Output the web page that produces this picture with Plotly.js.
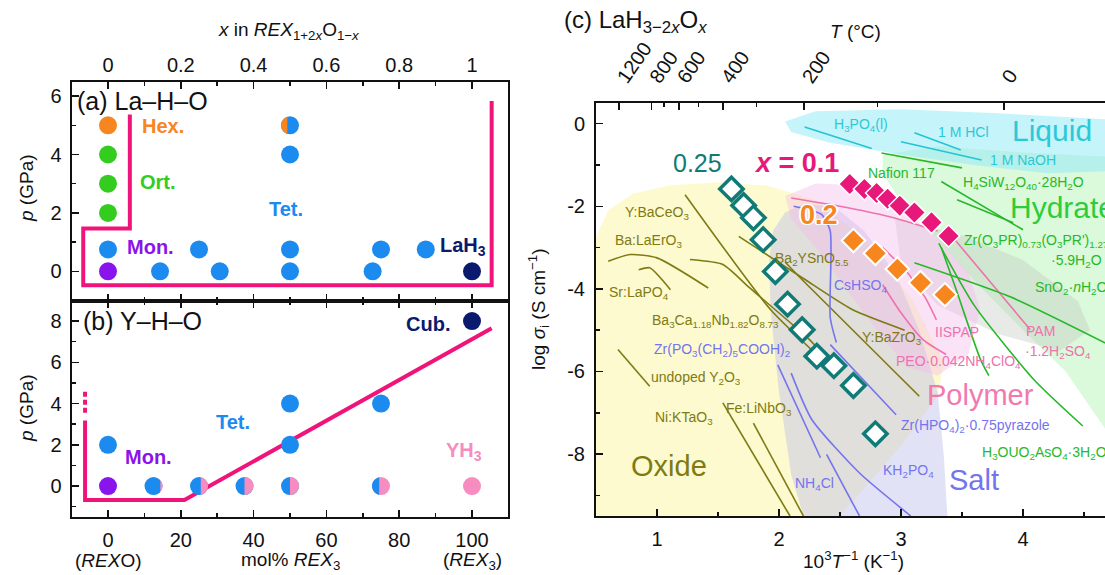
<!DOCTYPE html>
<html><head><meta charset="utf-8">
<script src="https://cdn.plot.ly/plotly-3.0.1.min.js"></script>
<style>html,body{margin:0;padding:0;background:#fff;overflow:hidden}#chart{width:1105px;height:575px}</style>
</head><body><div id="chart"></div>
<script>
// ===================== DATA =====================
// Panel (a): La–H–O, x in REX(1+2x)O(1-x) vs pressure (GPa)
const aX        = [0, 0, 0, 0, 0, 0, 0.143, 0.25, 0.307, 0.5, 0.5, 0.5, 0.5, 0.727, 0.75, 0.873, 1];
const aP        = [5, 4, 3, 2, 0.75, 0, 0, 0.75, 0, 0, 0.75, 4, 5, 0, 0.75, 0.75, 0];
const aPhase    = ['Hex','Ort','Ort','Ort','Tet','Mon','Tet','Tet','Tet','Tet','Tet','Tet','Tet','Tet','Tet','Tet','LaH3'];
const aMixPhase = [null,null,null,null,null,null,null,null,null,null,null,null,'Hex',null,null,null,null];
const aMixFrac  = [0,0,0,0,0,0,0,0,0,0,0,0,0.35,0,0,0,0];
const aBoundX   = [0.06, 0.06, -0.068, -0.068, 1.054, 1.054];
const aBoundP   = [5.37, 1.47, 1.47, -0.48, -0.48, 5.83];

// Panel (b): Y–H–O, mol% REX3 vs pressure (GPa)
const bX        = [0, 0, 12.5, 25, 37.5, 50, 50, 50, 75, 75, 100, 100];
const bP        = [2, 0, 0, 0, 0, 0, 2, 4, 0, 4, 0, 8];
const bPhase    = ['Tet','Mon','Tet','Tet','Tet','Tet','Tet','Tet','YH3','Tet','YH3','Cub'];
const bMixPhase = [null,null,'YH3','YH3','YH3','YH3',null,null,'Tet',null,null,null];
const bMixFrac  = [0,0,0.12,0.4,0.5,0.5,0,0,0.4,0,0,0];
const bBoundX   = [-6.3, -6.3, 21, 105.4];
const bBoundP   = [3.18, -0.68, -0.68, 7.66];
const bDotX     = [-6.3, -6.3];
const bDotP     = [3.55, 4.6];

// Panel (c): LaH(3-2x)Ox conductivity, 1000/T vs log sigma
const c01X  = [2.58, 2.70, 2.80, 2.89, 2.99, 3.11, 3.25, 3.39];
const c01Y  = [-1.46, -1.58, -1.68, -1.82, -1.99, -2.15, -2.39, -2.72];
const c02X  = [2.61, 2.79, 2.97, 3.16, 3.36];
const c02Y  = [-2.83, -3.14, -3.52, -3.85, -4.14];
const c025X = [1.61, 1.71, 1.79, 1.87, 1.97, 2.07, 2.19, 2.31, 2.45, 2.61, 2.79];
const c025Y = [-1.58, -1.98, -2.28, -2.81, -3.58, -4.37, -4.99, -5.63, -5.86, -6.34, -7.51];

// top axis temperatures (°C)
const topT      = [1200, 800, 600, 400, 200, 0];
const topTMinor = [700, 500, 300, 100];
const cYTicks   = [0, -2, -4, -6, -8];
const cYText    = ['0', '-2', '-4', '-6', '-8'];

// background material classes (outlines in 1000/T, log sigma)
const oxideX   = [0.5, 0.5, 0.6, 0.8, 1.1, 1.5, 1.9, 2.3, 2.7, 3.1, 3.35, 3.3, 3.0, 2.5];
const oxideY   = [-9.5, -2.75, -2.1, -1.7, -1.5, -1.42, -1.5, -1.85, -2.8, -4.3, -5.8, -6.6, -7.8, -9.5];
const saltX    = [1.92, 1.95, 2.05, 2.2, 2.45, 2.7, 2.95, 3.15, 3.3, 3.35, 3.38, 2.2, 2.1, 2.0, 1.93];
const saltY    = [-3.3, -2.6, -2.15, -1.95, -2.0, -2.6, -3.6, -5.0, -6.5, -8.0, -9.5, -9.5, -8.5, -6.5, -4.5];
const polyX    = [2.05, 2.3, 2.7, 3.0, 3.3, 3.55, 3.65, 3.55, 3.3, 3.05, 2.8, 2.55, 2.3, 2.1];
const polyY    = [-1.75, -1.45, -1.5, -2.0, -2.8, -3.6, -4.5, -5.6, -6.1, -5.9, -5.0, -4.0, -3.0, -2.3];
const hydX     = [2.85, 3.3, 4.0, 4.7, 4.7, 4.35, 4.0, 3.6, 3.3, 3.0, 2.85];
const hydY     = [-0.75, -0.55, -0.7, -0.8, -7.5, -6.0, -5.0, -3.8, -2.8, -1.9, -1.2];
const grayX    = [2.95, 3.5, 4.0, 4.45, 4.55, 4.3, 3.8, 3.3, 3.0];
const grayY    = [-2.3, -2.7, -3.3, -4.3, -5.0, -5.5, -5.1, -4.4, -3.4];
const liqX     = [2.05, 2.3, 3.0, 3.8, 4.7, 4.7, 4.2, 3.6, 3.0, 2.4, 2.1];
const liqY     = [0.05, 0.3, 0.35, 0.25, 0.1, -1.15, -1.2, -1.0, -0.75, -0.45, -0.2];

// literature conductivity curves
const oxLines = [
  {x:[1.23, 1.93, 2.32], y:[-1.72, -4.5, -5.62]},                 // Y:BaCeO3
  {x:[0.60, 0.78, 1.0, 1.42], y:[-3.33, -3.17, -3.25, -3.98]},     // Ba:LaErO3
  {x:[0.85, 0.94, 1.11], y:[-3.54, -3.49, -4.02]},                 // Sr:LaPO4
  {x:[1.27, 1.54, 1.75, 2.25, 2.35], y:[-3.29, -3.41, -3.95, -5.23, -5.55]}, // Ba3Ca1.18Nb1.82O8.73
  {x:[1.67, 2.2, 2.6, 3.03], y:[-2.73, -3.75, -4.5, -5.0]},        // Ba2YSnO5.5
  {x:[2.05, 2.19, 3.15], y:[-3.35, -3.78, -6.6]},                  // Y:BaZrO3
  {x:[0.68, 0.94], y:[-5.47, -6.36]},                              // undoped Y2O3
  {x:[1.54, 2.09], y:[-6.76, -9.5]},                               // Ni:KTaO3
  {x:[1.79, 2.2], y:[-7.25, -9.5]}                                 // Fe:LiNbO3
];
const saltLines = [
  {x:[2.12, 2.35, 2.42, 2.42, 2.47], y:[-2.0, -2.2, -2.6, -4.7, -5.3]}, // CsHSO4
  {x:[2.42, 2.96], y:[-5.35, -7.05]},                                    // Zr(HPO4)2·0.75pyrazole
  {x:[1.99, 2.34], y:[-5.84, -8.09]},                                    // Zr(PO3(CH2)5COOH)2
  {x:[2.10, 2.27, 2.66, 3.08], y:[-6.04, -7.17, -8.46, -9.5]},           // KH2PO4
  {x:[2.39, 2.66], y:[-8.01, -9.5]}                                      // NH4Cl
];
const polyLines = [
  {x:[2.1, 2.5, 2.9, 3.3], y:[-1.8, -2.0, -2.25, -2.6]},
  {x:[3.43, 4.06], y:[-2.77, -4.99]},                        // PAM·1.2H2SO4
  {x:[2.85, 3.05, 3.2, 3.29], y:[-3.0, -3.6, -4.22, -4.75]},  // IISPAP
  {x:[2.85, 3.0, 3.18, 3.37], y:[-3.9, -4.58, -5.23, -5.59]}  // PEO·0.042NH4ClO4
];
const hydLines = [
  {x:[2.84, 3.5], y:[-0.71, -1.07]},                          // Nafion 117
  {x:[3.33, 4.0], y:[-1.40, -2.57]},                          // H4SiW12O40·28H2O
  {x:[3.46, 3.92], y:[-1.84, -2.4]},
  {x:[3.33, 3.45, 3.65, 3.72], y:[-3.0, -4.0, -5.7, -6.1]},   // Zr(O3PR)...
  {x:[3.31, 3.6, 4.09, 4.49], y:[-2.9, -4.4, -6.2, -7.32]},   // H3OUO2AsO4·3H2O
  {x:[3.11, 3.9, 4.7], y:[-3.37, -4.2, -5.35]}                // SnO2·nH2O
];
const liqLines = [
  {x:[2.21, 2.76], y:[-0.08, -0.6]},   // H3PO4(l)
  {x:[3.11, 3.49], y:[-0.22, -0.64]},  // 1 M HCl
  {x:[3.0, 3.66], y:[-0.44, -0.88]}    // 1 M NaOH
];

// ===================== STYLE =====================
const W = 1105, H = 575;
const FONT = 'Liberation Sans, Arial, Helvetica, sans-serif';
const INK = '#111';
const phaseColor = {Hex:'#f7861e', Ort:'#33cc1f', Tet:'#1b8bef', Mon:'#8a14ec', LaH3:'#0a1a6e', Cub:'#0a1a6e', YH3:'#f68cc0'};
const PINK = '#f0147a';
const cls = {oxi:'#7f7a14', salt:'#7474ee', pol:'#ee72ad', hyd:'#27b82a', liq:'#22c4d6'};
const px = v => v / W, py = v => 1 - v / H;

const traces = [];
// ---- panel (a)
traces.push({x:aBoundX, y:aBoundP, xaxis:'x', yaxis:'y', mode:'lines', line:{color:PINK, width:4}, hoverinfo:'skip'});
traces.push({x:aX, y:aP, xaxis:'x', yaxis:'y', mode:'markers', cliponaxis:false,
  marker:{size:18, color:aPhase.map(p => phaseColor[p])}, hoverinfo:'skip'});
// ---- panel (b)
traces.push({x:bBoundX, y:bBoundP, xaxis:'x2', yaxis:'y2', mode:'lines', line:{color:PINK, width:4}, hoverinfo:'skip'});
traces.push({x:bDotX, y:bDotP, xaxis:'x2', yaxis:'y2', mode:'lines', line:{color:PINK, width:4, dash:'5px,3px'}, hoverinfo:'skip'});
traces.push({x:bX, y:bP, xaxis:'x2', yaxis:'y2', mode:'markers', cliponaxis:false,
  marker:{size:18, color:bPhase.map(p => phaseColor[p])}, hoverinfo:'skip'});

// ---- panel (c) background regions
const region = (x, y, col) => ({x, y, xaxis:'x3', yaxis:'y3', mode:'lines', fill:'toself',
  fillcolor:col, line:{width:0, color:'rgba(0,0,0,0)'}, hoverinfo:'skip'});
traces.push(region(oxideX, oxideY, 'rgba(250,246,165,0.55)'));
traces.push(region(saltX, saltY, 'rgba(190,190,238,0.45)'));
traces.push(region(hydX, hydY, 'rgba(170,240,170,0.42)'));
traces.push(region(grayX, grayY, 'rgba(190,195,190,0.35)'));
traces.push(region(polyX, polyY, 'rgba(245,185,235,0.4)'));
traces.push(region(liqX, liqY, 'rgba(150,235,245,0.55)'));

const addLines = (arr, col) => arr.forEach(l => traces.push({x:l.x, y:l.y, xaxis:'x3', yaxis:'y3',
  mode:'lines', line:{color:col, width:1.6, shape:'spline', smoothing:0.6}, hoverinfo:'skip'}));
addLines(oxLines, cls.oxi);
addLines(saltLines, cls.salt);
addLines(polyLines, cls.pol);
addLines(hydLines, cls.hyd);
addLines(liqLines, cls.liq);

traces.push({x:c025X, y:c025Y, xaxis:'x3', yaxis:'y3', mode:'markers',
  marker:{symbol:'diamond', size:18, color:'#ffffff', line:{color:'#127a76', width:3.5}}, hoverinfo:'skip'});
traces.push({x:c02X, y:c02Y, xaxis:'x3', yaxis:'y3', mode:'markers',
  marker:{symbol:'diamond', size:18, color:'#f7861e', line:{color:'#ffffff', width:2}}, hoverinfo:'skip'});
traces.push({x:c01X, y:c01Y, xaxis:'x3', yaxis:'y3', mode:'markers',
  marker:{symbol:'diamond', size:17, color:'#e8177a', line:{color:'#ffffff', width:1.5}}, hoverinfo:'skip'});

// ---- half-filled markers (second phase drawn as circular segment)
function segPath(r, f, side) {
  const c = r - 2 * r * f;
  const phi = Math.acos(Math.max(-1, Math.min(1, c / r)));
  const s = side === 'left' ? -1 : 1;
  const P = t => [r * Math.cos(t), r * Math.sin(t)];
  const arc = (t1, t2) => {
    const k = 4 / 3 * Math.tan((t2 - t1) / 4);
    const p1 = P(t1), p2 = P(t2);
    const c1 = [p1[0] - k * r * Math.sin(t1), p1[1] + k * r * Math.cos(t1)];
    const c2 = [p2[0] + k * r * Math.sin(t2), p2[1] - k * r * Math.cos(t2)];
    const f2 = v => v.toFixed(2);
    return `C ${f2(s*c1[0])} ${f2(c1[1])} ${f2(s*c2[0])} ${f2(c2[1])} ${f2(s*p2[0])} ${f2(p2[1])}`;
  };
  const st = P(-phi);
  return `M ${(s*st[0]).toFixed(2)} ${st[1].toFixed(2)} ${arc(-phi, 0)} ${arc(0, phi)} Z`;
}
const shapes = [];
const mixShapes = (X, Y, mixP, mixF, xr, yr) => X.forEach((x, i) => {
  if (!mixP[i]) return;
  const side = mixP[i] === 'YH3' ? 'right' : 'left';
  shapes.push({type:'path', xref:xr, yref:yr, xsizemode:'pixel', ysizemode:'pixel',
    xanchor:x, yanchor:Y[i], path:segPath(9, mixF[i], side),
    fillcolor:phaseColor[mixP[i]], line:{width:0}, layer:'above'});
});
mixShapes(aX, aP, aMixPhase, aMixFrac, 'x', 'y');
mixShapes(bX, bP, bMixPhase, bMixFrac, 'x2', 'y2');

// ===================== ANNOTATIONS =====================
const ann = [];
const A = (text, x, y, xr, yr, color, size, opts = {}) => ann.push(Object.assign({
  text, x, y, xref:xr, yref:yr, showarrow:false, xanchor:'center', yanchor:'middle',
  font:{family:FONT, size, color}}, opts));
const P = (text, X, Y, size, opts = {}) => A(text, px(X), py(Y), 'paper', 'paper', INK, size, opts);

// panel (a)
A('(a) La–H–O', -0.09, 5.83, 'x', 'y', INK, 25, {xanchor:'left'});
A('<b>Hex.</b>', 0.151, 4.97, 'x', 'y', phaseColor.Hex, 20);
A('<b>Ort.</b>', 0.136, 3.07, 'x', 'y', phaseColor.Ort, 20);
A('<b>Tet.</b>', 0.49, 2.12, 'x', 'y', phaseColor.Tet, 20);
A('<b>Mon.</b>', 0.116, 0.84, 'x', 'y', phaseColor.Mon, 20);
A('<b>LaH<sub>3</sub></b>', 0.975, 0.84, 'x', 'y', phaseColor.LaH3, 20);
// panel (b)
A('(b) Y–H–O', -7.3, 8.0, 'x2', 'y2', INK, 25, {xanchor:'left'});
A('<b>Cub.</b>', 88, 7.87, 'x2', 'y2', phaseColor.Cub, 20);
A('<b>Tet.</b>', 34.3, 3.11, 'x2', 'y2', phaseColor.Tet, 20);
A('<b>Mon.</b>', 11.1, 1.42, 'x2', 'y2', phaseColor.Mon, 20);
A('<b>YH<sub>3</sub></b>', 97.8, 1.66, 'x2', 'y2', phaseColor.YH3, 20);
// axis titles (a)/(b)
P('<i>x</i> in <i>REX</i><sub>1+2<i>x</i></sub>O<sub>1−<i>x</i></sub>', 289, 31, 19);
P('<i>p</i> (GPa)', 27, 188, 19, {textangle:-90});
P('<i>p</i> (GPa)', 27, 408, 19, {textangle:-90});
P('(<i>REX</i>O)', 108, 560, 19);
P('mol% <i>REX</i><sub>3</sub>', 290, 561, 19);
P('(<i>REX</i><sub>3</sub>)', 472, 561, 19);
// panel (c) titles
P('(c) LaH<sub>3−2<i>x</i></sub>O<sub><i>x</i></sub>', 562, 22, 24, {xanchor:'left'});
P('<i>T</i> (°C)', 855, 32, 19);
P('log <i>σ</i><sub>i</sub> (S cm<sup>−1</sup>)', 538, 310, 19, {textangle:-90});
P('10<sup>3</sup><i>T</i><sup>−1</sup> (K<sup>−1</sup>)', 853, 560, 19);
// panel (c) series labels
A('0.25', 1.33, -0.96, 'x3', 'y3', '#127a76', 25);
A('<b><i>x</i> = 0.1</b>', 2.14, -0.96, 'x3', 'y3', '#e8177a', 27);
A('<b>0.2</b>', 2.33, -2.2, 'x3', 'y3', '#f7861e', 27,
  {font:{family:FONT, size:27, color:'#f7861e', shadow:'1px 1px 0 #fff, -1px -1px 0 #fff, 1px -1px 0 #fff, -1px 1px 0 #fff, 2px 0 0 #fff, -2px 0 0 #fff'}});

const cLabels = [
  ['Liquid', 4.24, -0.16, 'liq', 30, 'center'],
  ['Hydrate', 3.88, -2.04, 'hydB', 30, 'left'],
  ['H<sub>3</sub>PO<sub>4</sub>(l)', 2.675, -0.04, 'liq', 14, 'center'],
  ['1 M HCl', 3.51, -0.2, 'liq', 14, 'center'],
  ['1 M NaOH', 4.0, -0.88, 'liq', 14, 'center'],
  ['Nafion 117', 3.0, -1.19, 'hyd', 14, 'center'],
  ['H<sub>4</sub>SiW<sub>12</sub>O<sub>40</sub>·28H<sub>2</sub>O', 4.0, -1.43, 'hyd', 14, 'center'],
  ["Zr(O<sub>3</sub>PR)<sub>0.73</sub>(O<sub>3</sub>PR')<sub>1.27</sub>", 3.5, -2.84, 'hyd', 14, 'left'],
  ['·5.9H<sub>2</sub>O', 4.21, -3.33, 'hyd', 14, 'left'],
  ['SnO<sub>2</sub>·<i>n</i>H<sub>2</sub>O', 4.08, -3.97, 'hyd', 14, 'left'],
  ['PAM', 4.14, -5.01, 'pol', 14, 'center'],
  ['·1.2H<sub>2</sub>SO<sub>4</sub>', 4.29, -5.53, 'pol', 14, 'center'],
  ['IISPAP', 3.46, -5.04, 'pol', 14, 'center'],
  ['PEO·0.042NH<sub>4</sub>ClO<sub>4</sub>', 3.47, -5.78, 'pol', 14, 'center'],
  ['Polymer', 3.65, -6.58, 'polB', 29, 'center'],
  ['Salt', 3.60, -8.64, 'salt', 29, 'center'],
  ['Oxide', 1.10, -8.29, 'oxi', 29, 'center'],
  ['Zr(HPO<sub>4</sub>)<sub>2</sub>·0.75pyrazole', 2.985, -7.33, 'salt', 14, 'left'],
  ['H<sub>3</sub>OUO<sub>2</sub>AsO<sub>4</sub>·3H<sub>2</sub>O', 3.65, -7.98, 'hyd', 14, 'left'],
  ['KH<sub>2</sub>PO<sub>4</sub>', 3.06, -8.40, 'salt', 14, 'center'],
  ['NH<sub>4</sub>Cl', 2.29, -8.73, 'salt', 14, 'center'],
  ['Ni:KTaO<sub>3</sub>', 1.22, -7.12, 'oxi', 14, 'center'],
  ['Fe:LiNbO<sub>3</sub>', 1.84, -6.91, 'oxi', 14, 'center'],
  ['undoped Y<sub>2</sub>O<sub>3</sub>', 1.32, -6.17, 'oxi', 14, 'center'],
  ['Zr(PO<sub>3</sub>(CH<sub>2</sub>)<sub>5</sub>COOH)<sub>2</sub>', 1.53, -5.49, 'salt', 14, 'center'],
  ['Ba<sub>3</sub>Ca<sub>1.18</sub>Nb<sub>1.82</sub>O<sub>8.73</sub>', 1.48, -4.77, 'oxi', 14, 'center'],
  ['Sr:LaPO<sub>4</sub>', 0.85, -4.1, 'oxi', 14, 'center'],
  ['Ba:LaErO<sub>3</sub>', 0.93, -2.84, 'oxi', 14, 'center'],
  ['Y:BaCeO<sub>3</sub>', 1.0, -2.16, 'oxi', 14, 'center'],
  ['Ba<sub>2</sub>YSnO<sub>5.5</sub>', 2.27, -3.27, 'oxi', 14, 'center'],
  ['CsHSO<sub>4</sub>', 2.67, -3.93, 'salt', 14, 'center'],
  ['Y:BaZrO<sub>3</sub>', 2.93, -5.2, 'oxi', 14, 'center']
];
const labelColor = Object.assign({}, cls, {hydB:'#2fcc3a', polB:'#f07ab0', liq:'#2cc8d8'});
cLabels.forEach(([t, x, y, k, s, xa]) => A(t, x, y, 'x3', 'y3', labelColor[k], s, {xanchor:xa}));

// ===================== AXES =====================
const tickfont = {family:FONT, size:20, color:INK};
const base = {showline:true, linecolor:INK, linewidth:2, ticks:'inside', ticklen:7, tickwidth:1.5,
  tickcolor:INK, showgrid:false, zeroline:false, tickfont, fixedrange:true,
  minor:{ticks:'inside', ticklen:4, tickwidth:1.5, tickcolor:INK, showgrid:false}};
const ab = (o) => Object.assign({}, base, o, {minor:Object.assign({}, base.minor, o.minor || {})});
const domAB = [px(71.6), px(508.4)];

const layout = {
  width:W, height:H, margin:{l:0, r:0, t:0, b:0}, showlegend:false, paper_bgcolor:'#fff', plot_bgcolor:'rgba(0,0,0,0)',
  font:{family:FONT, color:INK},
  xaxis: ab({domain:domAB, anchor:'y', side:'top', mirror:'ticks', range:[-0.1, 1.1], dtick:0.2, tick0:0,
    minor:{dtick:0.1}, ticklabelstandoff:0}),
  yaxis: ab({domain:[py(300.5), py(81.5)], anchor:'x', range:[-1, 6.5], dtick:2, tick0:0, mirror:true,
    minor:{dtick:1}, ticklabelstandoff:4}),
  xaxis2: ab({domain:domAB, anchor:'y2', side:'bottom', mirror:'ticks', range:[-10, 110], dtick:20, tick0:0,
    minor:{dtick:10}, ticklabelstandoff:4}),
  yaxis2: ab({domain:[py(517), py(300.5)], anchor:'x2', range:[-1.5, 9], dtick:2, tick0:0, mirror:true,
    minor:{dtick:1}, ticklabelstandoff:4}),
  xaxis3: ab({domain:[px(596), 1], anchor:'y3', side:'bottom', range:[0.5, 0.5 + 509/122], dtick:1, tick0:0,
    minor:{dtick:0.5}, ticklabelstandoff:4}),
  yaxis3: ab({domain:[py(516), py(103)], anchor:'x3', range:[-9.5, 0.5], tickmode:'array',
    tickvals:cYTicks, ticktext:cYText, minor:{tickmode:'linear', dtick:1, tick0:0}, ticklabelstandoff:5}),
  // the printed temperature scale is slightly stretched relative to the bottom axis
  xaxis4: ab({domain:[px(596), 1], anchor:'y3', overlaying:'x3', side:'top', range:[0.501, 4.444],
    tickmode:'array', tickvals:topT.map(t => 1000/(t + 273.15)), ticktext:topT.map(String), tickangle:-55,
    minor:{tickmode:'array', tickvals:topTMinor.map(t => 1000/(t + 273.15))}, ticklabelstandoff:4}),
  shapes, annotations:ann
};
// invisible trace to activate the top axis of (c)
traces.push({x:[1], y:[0], xaxis:'x4', yaxis:'y3', mode:'markers', marker:{opacity:0}, hoverinfo:'skip'});

Plotly.newPlot('chart', traces, layout, {staticPlot:true, displayModeBar:false});
</script></body></html>
